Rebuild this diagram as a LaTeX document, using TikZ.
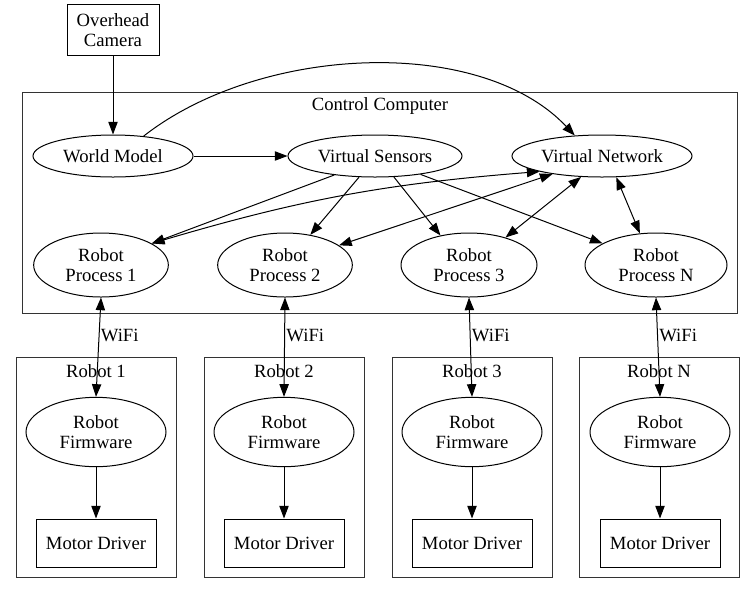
\documentclass[tikz,border=0pt]{standalone}
\usepackage{fontspec}
\setmainfont{Liberation Serif}
\usetikzlibrary{shapes.geometric,arrows.meta}
\begin{document}
\begin{tikzpicture}[x=0.75pt,y=-0.75pt,
  every node/.style={font=\fontsize{14}{14.5}\selectfont, align=center, inner sep=0pt},
  oval/.style={draw, ellipse, line width=0.75pt},
  boxn/.style={draw, rectangle, line width=0.75pt},
  edge/.style={line width=0.75pt, -{Triangle[length=9.5pt,width=7pt]}},
  bedge/.style={line width=0.75pt, {Triangle[length=9.5pt,width=7pt]}-{Triangle[length=9.5pt,width=7pt]}},
  clus/.style={draw=black!80, line width=0.75pt}]
\useasboundingbox (0,0) rectangle (756,594);
% clusters
\draw[clus] (22,92) rectangle (737,313);
\node (cclab) at (380,106) {Control Computer};
\draw[clus] (16,357) rectangle (176,577);
\draw[clus] (204,357) rectangle (364,577);
\draw[clus] (392,357) rectangle (552,577);
\draw[clus] (579,357) rectangle (739,577);
\node (r1lab) at (96,371) {Robot 1};
\node (r2lab) at (284,371) {Robot 2};
\node (r3lab) at (472,371) {Robot 3};
\node (rnlab) at (659,371) {Robot N};
% nodes
\node[boxn, minimum width=69pt, minimum height=38pt] (cam) at (113,30) {Overhead\\Camera};
\node[oval, minimum width=120pt, minimum height=31.5pt] (wm) at (113,156) {World Model};
\node[oval, minimum width=130.5pt, minimum height=31.5pt] (vs) at (375,156) {Virtual Sensors};
\node[oval, minimum width=135pt, minimum height=31.5pt] (vn) at (602,156) {Virtual Network};
\node[oval, minimum width=101pt, minimum height=48pt] (rp1) at (101,265) {Robot\\Process 1};
\node[oval, minimum width=101pt, minimum height=48pt] (rp2) at (285,265) {Robot\\Process 2};
\node[oval, minimum width=102pt, minimum height=48pt] (rp3) at (469,265) {Robot\\Process 3};
\node[oval, minimum width=106.5pt, minimum height=48pt] (rpn) at (656,265) {Robot\\Process N};
\node[oval, minimum width=105pt, minimum height=52pt] (fw1) at (96,432) {Robot\\Firmware};
\node[oval, minimum width=105pt, minimum height=52pt] (fw2) at (284,432) {Robot\\Firmware};
\node[oval, minimum width=105pt, minimum height=52pt] (fw3) at (472,432) {Robot\\Firmware};
\node[oval, minimum width=105pt, minimum height=52pt] (fwn) at (660,432) {Robot\\Firmware};
\node[boxn, minimum width=90pt, minimum height=36pt] (md1) at (96,543) {Motor Driver};
\node[boxn, minimum width=90pt, minimum height=36pt] (md2) at (284,543) {Motor Driver};
\node[boxn, minimum width=90pt, minimum height=36pt] (md3) at (472,543) {Motor Driver};
\node[boxn, minimum width=90pt, minimum height=36pt] (mdn) at (660,543) {Motor Driver};
% edges
\draw[edge] (cam.south) -- (wm.north);
\draw[edge] (wm.east) -- (vs.west);
\draw[edge] (wm.33) .. controls (260,45) and (480,35) .. (vn.143);
\draw[edge] (vs.205) -- (rp1.23);
\draw[edge] (vs.233) -- (rp2.50);
\draw[edge] (vs.-48) -- (rp3.134);
\draw[edge] (vs.-22) -- (rpn.158);
\draw[bedge] (rp1.23) to[bend left=6] (vn.194);
\draw[bedge] (rp2.20) -- (vn.200);
\draw[bedge] (rp3.37) -- (vn.225);
\draw[bedge] (rpn.117) -- (vn.-56);
\foreach \i in {1,2,3,n}{
  \draw[bedge] (rp\i.south) -- node[pos=0.38, anchor=west, xshift=1pt] {WiFi} (fw\i.north);
  \draw[edge] (fw\i.south) -- (md\i.north);
}
\end{tikzpicture}
\end{document}
